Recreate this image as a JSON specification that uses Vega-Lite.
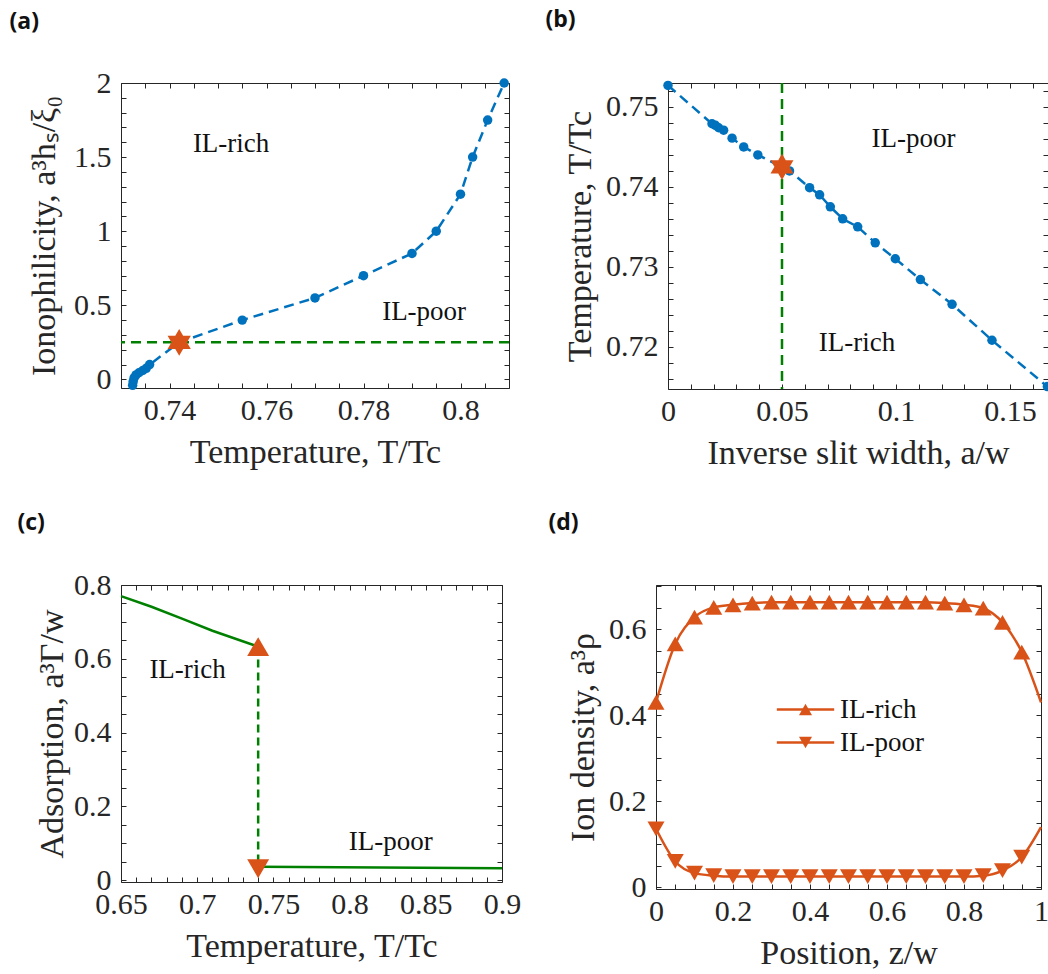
{
  "$schema": "https://vega.github.io/schema/vega-lite/v6.json",
  "padding": {"left": 8, "top": 8, "right": 0, "bottom": 0},
  "background": "white",
  "spacing": 40,
  "resolve": {"scale": {"shape": "independent", "color": "independent"}, "legend": {"shape": "independent", "color": "independent"}},
  "config": {
    "view": {"stroke": "#262626", "strokeWidth": 1},
    "axis": {
      "labelFont": "Liberation Serif", "labelFontSize": 30, "labelColor": "#262626",
      "titleFont": "Liberation Serif", "titleFontSize": 34, "titleFontWeight": "normal", "titleColor": "#262626",
      "domain": false, "grid": false, "tickColor": "#262626", "tickSize": -5, "tickWidth": 1,
      "labelPadding": 12, "titlePadding": 10, "labelFlush": false, "labelOverlap": false, "labelBound": false, "format": "~g"
    },
    "axisY": {"labelPadding": 15, "titlePadding": 8},
    "title": {"font": "Open Sans", "fontWeight": "bold", "fontSize": 23, "color": "#111111", "anchor": "start", "offset": 34, "dx": -18}
  },
  "datasets": {
    "a_pts": [
      {"T": 0.7324, "h": -0.04}, {"T": 0.7325, "h": -0.015}, {"T": 0.7327, "h": 0.01}, {"T": 0.7331, "h": 0.03},
      {"T": 0.7337, "h": 0.045}, {"T": 0.7345, "h": 0.06}, {"T": 0.7352, "h": 0.075}, {"T": 0.7359, "h": 0.1},
      {"T": 0.742, "h": 0.25}, {"T": 0.755, "h": 0.4}, {"T": 0.77, "h": 0.55}, {"T": 0.78, "h": 0.7},
      {"T": 0.79, "h": 0.85}, {"T": 0.795, "h": 1.0}, {"T": 0.8, "h": 1.25}, {"T": 0.8025, "h": 1.5},
      {"T": 0.8056, "h": 1.75}, {"T": 0.809, "h": 2.0}
    ],
    "a_ref": [{"h": 0.25}],
    "a_star": [{"T": 0.742, "h": 0.25}],
    "a_txt": [{"T": 0.7527, "h": 1.586, "t": "IL-rich"}, {"T": 0.7925, "h": 0.455, "t": "IL-poor"}],
    "b_pts": [
      {"aw": 0.0, "T": 0.7527}, {"aw": 0.0193, "T": 0.7479}, {"aw": 0.0208, "T": 0.7477}, {"aw": 0.0222, "T": 0.7474},
      {"aw": 0.0244, "T": 0.7471}, {"aw": 0.0281, "T": 0.7461}, {"aw": 0.0332, "T": 0.745}, {"aw": 0.0394, "T": 0.744},
      {"aw": 0.0533, "T": 0.742}, {"aw": 0.0621, "T": 0.7399}, {"aw": 0.0665, "T": 0.739}, {"aw": 0.0712, "T": 0.7375},
      {"aw": 0.0766, "T": 0.736}, {"aw": 0.0832, "T": 0.735}, {"aw": 0.0909, "T": 0.733}, {"aw": 0.0997, "T": 0.731},
      {"aw": 0.1107, "T": 0.7284}, {"aw": 0.1246, "T": 0.7253}, {"aw": 0.1421, "T": 0.7208}, {"aw": 0.1664, "T": 0.715}
    ],
    "b_ref": [{"aw": 0.05}],
    "b_star": [{"aw": 0.05, "T": 0.7425}],
    "b_txt": [{"aw": 0.1077, "T": 0.74605, "t": "IL-poor"}, {"aw": 0.0829, "T": 0.7205, "t": "IL-rich"}],
    "c_line": [
      {"T": 0.65, "G": 0.77, "seg": "rich"}, {"T": 0.67, "G": 0.741, "seg": "rich"}, {"T": 0.69, "G": 0.709, "seg": "rich"},
      {"T": 0.71, "G": 0.676, "seg": "rich"}, {"T": 0.74, "G": 0.633, "seg": "rich"},
      {"T": 0.74, "G": 0.036, "seg": "poor"}, {"T": 0.9, "G": 0.032, "seg": "poor"}
    ],
    "c_jump": [{"T": 0.74, "G1": 0.633, "G2": 0.036}],
    "c_up": [{"T": 0.74, "G": 0.633}],
    "c_down": [{"T": 0.74, "G": 0.031}],
    "c_txt": [{"T": 0.6937, "G": 0.57, "t": "IL-rich"}, {"T": 0.827, "G": 0.104, "t": "IL-poor"}],
    "d_prof": [
      {"z": 0, "rho": 0.43, "s": "IL-rich"}, {"z": 0.05, "rho": 0.566, "s": "IL-rich"}, {"z": 0.1, "rho": 0.628, "s": "IL-rich"},
      {"z": 0.15, "rho": 0.651, "s": "IL-rich"}, {"z": 0.2, "rho": 0.657, "s": "IL-rich"}, {"z": 0.25, "rho": 0.661, "s": "IL-rich"},
      {"z": 0.3, "rho": 0.663, "s": "IL-rich"}, {"z": 0.35, "rho": 0.663, "s": "IL-rich"}, {"z": 0.4, "rho": 0.663, "s": "IL-rich"},
      {"z": 0.45, "rho": 0.663, "s": "IL-rich"}, {"z": 0.5, "rho": 0.663, "s": "IL-rich"}, {"z": 0.55, "rho": 0.663, "s": "IL-rich"},
      {"z": 0.6, "rho": 0.663, "s": "IL-rich"}, {"z": 0.65, "rho": 0.663, "s": "IL-rich"}, {"z": 0.7, "rho": 0.663, "s": "IL-rich"},
      {"z": 0.75, "rho": 0.661, "s": "IL-rich"}, {"z": 0.8, "rho": 0.657, "s": "IL-rich"}, {"z": 0.85, "rho": 0.649, "s": "IL-rich"},
      {"z": 0.9, "rho": 0.616, "s": "IL-rich"}, {"z": 0.95, "rho": 0.547, "s": "IL-rich"}, {"z": 1.0, "rho": 0.43, "s": "IL-rich"},
      {"z": 0, "rho": 0.136, "s": "IL-poor"}, {"z": 0.05, "rho": 0.06, "s": "IL-poor"}, {"z": 0.1, "rho": 0.033, "s": "IL-poor"},
      {"z": 0.15, "rho": 0.027, "s": "IL-poor"}, {"z": 0.2, "rho": 0.025, "s": "IL-poor"}, {"z": 0.25, "rho": 0.025, "s": "IL-poor"},
      {"z": 0.3, "rho": 0.025, "s": "IL-poor"}, {"z": 0.35, "rho": 0.025, "s": "IL-poor"}, {"z": 0.4, "rho": 0.025, "s": "IL-poor"},
      {"z": 0.45, "rho": 0.025, "s": "IL-poor"}, {"z": 0.5, "rho": 0.025, "s": "IL-poor"}, {"z": 0.55, "rho": 0.025, "s": "IL-poor"},
      {"z": 0.6, "rho": 0.025, "s": "IL-poor"}, {"z": 0.65, "rho": 0.025, "s": "IL-poor"}, {"z": 0.7, "rho": 0.025, "s": "IL-poor"},
      {"z": 0.75, "rho": 0.025, "s": "IL-poor"}, {"z": 0.8, "rho": 0.025, "s": "IL-poor"}, {"z": 0.85, "rho": 0.027, "s": "IL-poor"},
      {"z": 0.9, "rho": 0.039, "s": "IL-poor"}, {"z": 0.95, "rho": 0.07, "s": "IL-poor"}, {"z": 1.0, "rho": 0.14, "s": "IL-poor"}
    ]
  },
  "vconcat": [
    {
      "spacing": 33,
      "hconcat": [
        {
          "width": 388, "height": 305,
          "title": {"text": "(a)"},
          "resolve": {"axis": {"x": "independent", "y": "independent"}},
          "layer": [
            {
              "data": {"name": "a_ref"},
              "mark": {"type": "rule", "color": "#008000", "strokeWidth": 2.5, "strokeDash": [10, 6]},
              "encoding": {
                "y": {"field": "h", "type": "quantitative", "scale": {"domain": [-0.058, 2], "nice": false, "zero": false},
                  "axis": {"title": "Ionophilicity, a³hₛ/ξ₀", "titlePadding": 12, "values": [0,0.1,0.2,0.3,0.4,0.5,0.6,0.7,0.8,0.9,1,1.1,1.2,1.3,1.4,1.5,1.6,1.7,1.8,1.9,2],
                    "labelExpr": "abs(datum.value/0.5 - round(datum.value/0.5)) < 0.01 ? format(datum.value, '~g') : ''"}}
              }
            },
            {
              "data": {"name": "a_pts"},
              "mark": {"type": "line", "color": "#0072BD", "strokeWidth": 2.5, "strokeDash": [10, 6]},
              "encoding": {
                "x": {"field": "T", "type": "quantitative", "scale": {"domain": [0.73, 0.81], "nice": false, "zero": false},
                  "axis": {"title": "Temperature, T/Tc", "values": [0.73,0.735,0.74,0.745,0.75,0.755,0.76,0.765,0.77,0.775,0.78,0.785,0.79,0.795,0.8,0.805,0.81],
                    "labelExpr": "abs(datum.value/0.02 - round(datum.value/0.02)) < 0.01 ? format(datum.value, '~g') : ''"}},
                "y": {"field": "h", "type": "quantitative",
                  "axis": {"orient": "right", "labels": false, "title": null, "values": [0,0.1,0.2,0.3,0.4,0.5,0.6,0.7,0.8,0.9,1,1.1,1.2,1.3,1.4,1.5,1.6,1.7,1.8,1.9,2]}}
              }
            },
            {
              "data": {"name": "a_pts"},
              "mark": {"type": "point", "filled": true, "shape": "circle", "size": 90, "color": "#0072BD", "opacity": 1},
              "encoding": {
                "x": {"field": "T", "type": "quantitative",
                  "axis": {"orient": "top", "labels": false, "title": null, "values": [0.73,0.735,0.74,0.745,0.75,0.755,0.76,0.765,0.77,0.775,0.78,0.785,0.79,0.795,0.8,0.805,0.81]}},
                "y": {"field": "h", "type": "quantitative", "axis": null}
              }
            },
            {
              "data": {"name": "a_star"},
              "mark": {"type": "point", "filled": true, "shape": "M0,-1L0.866,0.5L-0.866,0.5ZM0,1L-0.866,-0.5L0.866,-0.5Z", "size": 720, "color": "#D95319", "opacity": 1},
              "encoding": {
                "x": {"field": "T", "type": "quantitative", "axis": null},
                "y": {"field": "h", "type": "quantitative", "axis": null}
              }
            },
            {
              "data": {"name": "a_txt"},
              "mark": {"type": "text", "font": "Liberation Serif", "fontSize": 27, "color": "#111111", "align": "center", "baseline": "middle"},
              "encoding": {
                "x": {"field": "T", "type": "quantitative", "axis": null},
                "y": {"field": "h", "type": "quantitative", "axis": null},
                "text": {"field": "t"}
              }
            }
          ]
        },
        {
          "width": 380, "height": 306,
          "title": {"text": "(b)", "dy": -10},
          "resolve": {"axis": {"x": "independent", "y": "independent"}},
          "layer": [
            {
              "data": {"name": "b_ref"},
              "mark": {"type": "rule", "color": "#008000", "strokeWidth": 2.5, "strokeDash": [10, 6]},
              "encoding": {
                "x": {"field": "aw", "type": "quantitative", "scale": {"domain": [0, 0.16667], "nice": false, "zero": false},
                  "axis": {"title": "Inverse slit width, a/w", "values": [0,0.01,0.02,0.03,0.04,0.05,0.06,0.07,0.08,0.09,0.1,0.11,0.12,0.13,0.14,0.15,0.16],
                    "labelExpr": "abs(datum.value/0.05 - round(datum.value/0.05)) < 0.01 ? format(datum.value, '~g') : ''"}}
              }
            },
            {
              "data": {"name": "b_pts"},
              "mark": {"type": "line", "color": "#0072BD", "strokeWidth": 2.5, "strokeDash": [10, 6]},
              "encoding": {
                "x": {"field": "aw", "type": "quantitative",
                  "axis": {"orient": "top", "labels": false, "title": null, "values": [0,0.01,0.02,0.03,0.04,0.05,0.06,0.07,0.08,0.09,0.1,0.11,0.12,0.13,0.14,0.15,0.16]}},
                "y": {"field": "T", "type": "quantitative", "scale": {"domain": [0.7147, 0.753], "nice": false, "zero": false},
                  "axis": {"title": "Temperature, T/Tc", "values": [0.716,0.718,0.72,0.722,0.724,0.726,0.728,0.73,0.732,0.734,0.736,0.738,0.74,0.742,0.744,0.746,0.748,0.75,0.752],
                    "labelExpr": "abs(datum.value/0.01 - round(datum.value/0.01)) < 0.01 ? format(datum.value, '~g') : ''"}}
              }
            },
            {
              "data": {"name": "b_pts"},
              "mark": {"type": "point", "filled": true, "shape": "circle", "size": 90, "color": "#0072BD", "opacity": 1},
              "encoding": {
                "x": {"field": "aw", "type": "quantitative", "axis": null},
                "y": {"field": "T", "type": "quantitative",
                  "axis": {"orient": "right", "labels": false, "title": null, "values": [0.716,0.718,0.72,0.722,0.724,0.726,0.728,0.73,0.732,0.734,0.736,0.738,0.74,0.742,0.744,0.746,0.748,0.75,0.752]}}
              }
            },
            {
              "data": {"name": "b_star"},
              "mark": {"type": "point", "filled": true, "shape": "M0,-1L0.866,0.5L-0.866,0.5ZM0,1L-0.866,-0.5L0.866,-0.5Z", "size": 700, "color": "#D95319", "opacity": 1},
              "encoding": {
                "x": {"field": "aw", "type": "quantitative", "axis": null},
                "y": {"field": "T", "type": "quantitative", "axis": null}
              }
            },
            {
              "data": {"name": "b_txt"},
              "mark": {"type": "text", "font": "Liberation Serif", "fontSize": 27, "color": "#111111", "align": "center", "baseline": "middle"},
              "encoding": {
                "x": {"field": "aw", "type": "quantitative", "axis": null},
                "y": {"field": "T", "type": "quantitative", "axis": null},
                "text": {"field": "t"}
              }
            }
          ]
        }
      ]
    },
    {
      "spacing": 154,
      "bounds": "flush",
      "resolve": {"scale": {"shape": "independent", "color": "independent"}, "legend": {"shape": "independent", "color": "independent"}},
      "hconcat": [
        {
          "width": 381, "height": 297,
          "title": {"text": "(c)", "offset": 35},
          "resolve": {"axis": {"x": "independent", "y": "independent"}},
          "layer": [
            {
              "data": {"name": "c_line"},
              "mark": {"type": "line", "color": "#008000", "strokeWidth": 2.5},
              "encoding": {
                "x": {"field": "T", "type": "quantitative", "scale": {"domain": [0.65, 0.9], "nice": false, "zero": false},
                  "axis": {"title": "Temperature, T/Tc", "values": [0.65,0.66,0.67,0.68,0.69,0.7,0.71,0.72,0.73,0.74,0.75,0.76,0.77,0.78,0.79,0.8,0.81,0.82,0.83,0.84,0.85,0.86,0.87,0.88,0.89,0.9],
                    "labelExpr": "abs(datum.value/0.05 - round(datum.value/0.05)) < 0.01 ? format(datum.value, '~g') : ''"}},
                "y": {"field": "G", "type": "quantitative", "scale": {"domain": [-0.005, 0.8], "nice": false, "zero": false},
                  "axis": {"title": "Adsorption, a³Γ/w", "titlePadding": 4, "values": [0,0.05,0.1,0.15,0.2,0.25,0.3,0.35,0.4,0.45,0.5,0.55,0.6,0.65,0.7,0.75,0.8],
                    "labelExpr": "abs(datum.value/0.2 - round(datum.value/0.2)) < 0.01 ? format(datum.value, '~g') : ''"}},
                "detail": {"field": "seg"}
              }
            },
            {
              "data": {"name": "c_jump"},
              "mark": {"type": "rule", "color": "#008000", "strokeWidth": 2.5, "strokeDash": [8, 5]},
              "encoding": {
                "x": {"field": "T", "type": "quantitative",
                  "axis": {"orient": "top", "labels": false, "title": null, "values": [0.65,0.66,0.67,0.68,0.69,0.7,0.71,0.72,0.73,0.74,0.75,0.76,0.77,0.78,0.79,0.8,0.81,0.82,0.83,0.84,0.85,0.86,0.87,0.88,0.89,0.9]}},
                "y": {"field": "G1", "type": "quantitative",
                  "axis": {"orient": "right", "labels": false, "title": null, "values": [0,0.05,0.1,0.15,0.2,0.25,0.3,0.35,0.4,0.45,0.5,0.55,0.6,0.65,0.7,0.75,0.8]}},
                "y2": {"field": "G2"}
              }
            },
            {
              "data": {"name": "c_up"},
              "mark": {"type": "point", "filled": true, "shape": "triangle-up", "size": 480, "color": "#D95319", "opacity": 1},
              "encoding": {
                "x": {"field": "T", "type": "quantitative", "axis": null},
                "y": {"field": "G", "type": "quantitative", "axis": null}
              }
            },
            {
              "data": {"name": "c_down"},
              "mark": {"type": "point", "filled": true, "shape": "triangle-down", "size": 480, "color": "#D95319", "opacity": 1},
              "encoding": {
                "x": {"field": "T", "type": "quantitative", "axis": null},
                "y": {"field": "G", "type": "quantitative", "axis": null}
              }
            },
            {
              "data": {"name": "c_txt"},
              "mark": {"type": "text", "font": "Liberation Serif", "fontSize": 27, "color": "#111111", "align": "center", "baseline": "middle"},
              "encoding": {
                "x": {"field": "T", "type": "quantitative", "axis": null},
                "y": {"field": "G", "type": "quantitative", "axis": null},
                "text": {"field": "t"}
              }
            }
          ]
        },
        {
          "width": 385, "height": 304,
          "title": {"text": "(d)", "offset": 36},
          "resolve": {"axis": {"x": "independent", "y": "independent"}},
          "layer": [
            {
              "data": {"name": "d_prof"},
              "mark": {"type": "line", "strokeWidth": 2.5, "interpolate": "monotone"},
              "encoding": {
                "x": {"field": "z", "type": "quantitative", "scale": {"domain": [0, 1], "nice": false, "zero": false},
                  "axis": {"title": "Position, z/w", "values": [0,0.05,0.1,0.15,0.2,0.25,0.3,0.35,0.4,0.45,0.5,0.55,0.6,0.65,0.7,0.75,0.8,0.85,0.9,0.95,1],
                    "labelExpr": "abs(datum.value/0.2 - round(datum.value/0.2)) < 0.01 ? format(datum.value, '~g') : ''"}},
                "y": {"field": "rho", "type": "quantitative", "scale": {"domain": [-0.004, 0.703], "nice": false, "zero": false},
                  "axis": {"title": "Ion density, a³ρ", "values": [0,0.05,0.1,0.15,0.2,0.25,0.3,0.35,0.4,0.45,0.5,0.55,0.6,0.65,0.7],
                    "labelExpr": "abs(datum.value/0.2 - round(datum.value/0.2)) < 0.01 ? format(datum.value, '~g') : ''"}},
                "color": {"field": "s", "type": "nominal",
                  "scale": {"domain": ["IL-poor", "IL-rich"], "range": ["#D95319", "#D95319"]},
                  "legend": {"title": null, "orient": "none", "legendX": 136, "legendY": 111,
                    "symbolType": "M-4.4,0H4.4", "symbolSize": 170, "symbolStrokeWidth": 2.5,
                    "labelFont": "Liberation Serif", "labelFontSize": 27, "labelColor": "#111111", "labelExpr": "''",
                    "labelOffset": 21, "rowPadding": 5}}
              }
            },
            {
              "data": {"name": "d_prof"},
              "transform": [{"filter": "datum.z < 0.99"}],
              "mark": {"type": "point", "filled": true, "size": 290, "color": "#D95319", "opacity": 1},
              "encoding": {
                "x": {"field": "z", "type": "quantitative",
                  "axis": {"orient": "top", "labels": false, "title": null, "values": [0,0.05,0.1,0.15,0.2,0.25,0.3,0.35,0.4,0.45,0.5,0.55,0.6,0.65,0.7,0.75,0.8,0.85,0.9,0.95,1]}},
                "y": {"field": "rho", "type": "quantitative",
                  "axis": {"orient": "right", "labels": false, "title": null, "values": [0,0.05,0.1,0.15,0.2,0.25,0.3,0.35,0.4,0.45,0.5,0.55,0.6,0.65,0.7]}},
                "shape": {"field": "s", "type": "nominal",
                  "scale": {"domain": ["IL-rich", "IL-poor"], "range": ["M0,-0.866L1,0.866H-1Z", "M0,0.866L-1,-0.866H1Z"]},
                  "legend": {"title": null, "orient": "none", "legendX": 136, "legendY": 111,
                    "symbolSize": 170, "labelFont": "Liberation Serif", "labelFontSize": 27, "labelColor": "#111111",
                    "labelOffset": 21, "rowPadding": 5, "symbolFillColor": "#D95319"}
                }
              }
            }
          ]
        }
      ]
    }
  ]
}
